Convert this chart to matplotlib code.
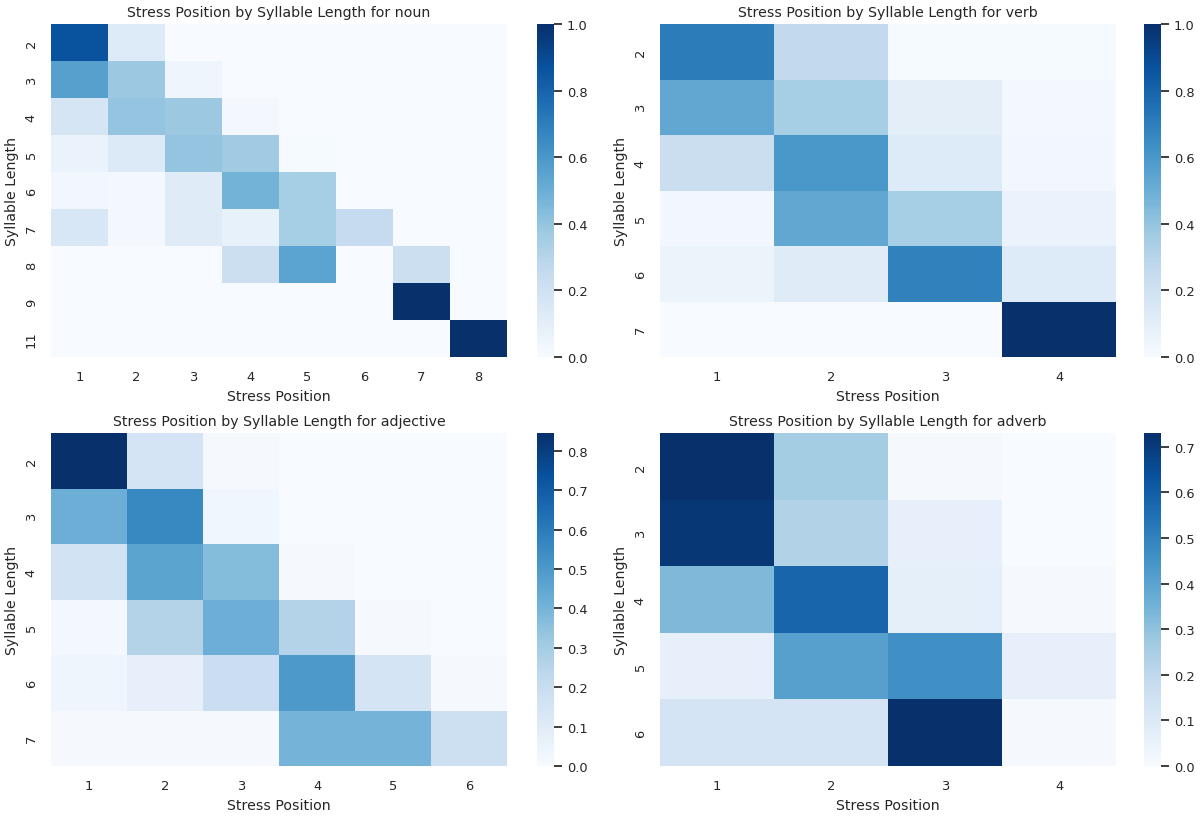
import matplotlib
matplotlib.use("Agg")
import matplotlib.pyplot as plt
import seaborn as sns
import pandas as pd
import numpy as np

sns.set_theme(style="white", font_scale=0.85)

# proportion of words per syllable length (rows) stressed at each position (cols)
noun_lengths = [2, 3, 4, 5, 6, 7, 8, 9, 11]
noun_positions = [1, 2, 3, 4, 5, 6, 7, 8]
noun_values = [
    [0.87, 0.13, 0.00, 0.00, 0.00, 0.00, 0.00, 0.00],
    [0.56, 0.38, 0.05, 0.00, 0.00, 0.00, 0.00, 0.00],
    [0.17, 0.40, 0.38, 0.02, 0.00, 0.00, 0.00, 0.00],
    [0.07, 0.14, 0.40, 0.37, 0.01, 0.00, 0.00, 0.00],
    [0.03, 0.02, 0.12, 0.48, 0.35, 0.00, 0.00, 0.00],
    [0.16, 0.02, 0.12, 0.08, 0.35, 0.25, 0.00, 0.00],
    [0.00, 0.00, 0.00, 0.22, 0.55, 0.00, 0.22, 0.00],
    [0.00, 0.00, 0.00, 0.00, 0.00, 0.00, 1.00, 0.00],
    [0.00, 0.00, 0.00, 0.00, 0.00, 0.00, 0.00, 1.00],
]

verb_lengths = [2, 3, 4, 5, 6, 7]
verb_positions = [1, 2, 3, 4]
verb_values = [
    [0.71, 0.26, 0.01, 0.01],
    [0.53, 0.35, 0.10, 0.02],
    [0.23, 0.60, 0.13, 0.03],
    [0.03, 0.53, 0.35, 0.07],
    [0.06, 0.12, 0.69, 0.13],
    [0.00, 0.00, 0.00, 1.00],
]

adj_lengths = [2, 3, 4, 5, 6, 7]
adj_positions = [1, 2, 3, 4, 5, 6]
adj_values = [
    [0.845, 0.15, 0.01, 0.00, 0.00, 0.00],
    [0.42, 0.56, 0.03, 0.00, 0.00, 0.00],
    [0.16, 0.46, 0.37, 0.01, 0.00, 0.00],
    [0.02, 0.26, 0.42, 0.26, 0.01, 0.00],
    [0.04, 0.07, 0.19, 0.50, 0.15, 0.01],
    [0.01, 0.01, 0.01, 0.40, 0.40, 0.18],
]

adv_lengths = [2, 3, 4, 5, 6]
adv_positions = [1, 2, 3, 4]
adv_values = [
    [0.73, 0.26, 0.01, 0.00],
    [0.71, 0.23, 0.06, 0.00],
    [0.33, 0.58, 0.07, 0.01],
    [0.06, 0.41, 0.46, 0.06],
    [0.13, 0.13, 0.73, 0.01],
]

pos_tables = {
    "noun": pd.DataFrame(noun_values, index=noun_lengths, columns=noun_positions),
    "verb": pd.DataFrame(verb_values, index=verb_lengths, columns=verb_positions),
    "adjective": pd.DataFrame(adj_values, index=adj_lengths, columns=adj_positions),
    "adverb": pd.DataFrame(adv_values, index=adv_lengths, columns=adv_positions),
}

fig = plt.figure(figsize=(12, 8.2), dpi=100)

# panel boxes in figure fractions: (heatmap left, colorbar left, bottom)
lefts = [(0.0425, 0.4475), (0.55, 0.9533)]
bottoms = [0.5634, 0.0646]
hm_w, hm_h, cb_w = 0.38, 0.406, 0.0138

for i, (pos, table) in enumerate(pos_tables.items()):
    row, col = divmod(i, 2)
    ax = fig.add_axes([lefts[col][0], bottoms[row], hm_w, hm_h])
    cax = fig.add_axes([lefts[col][1], bottoms[row], cb_w, hm_h])
    sns.heatmap(table, cmap="Blues", ax=ax, cbar_ax=cax)
    ax.set_title(f"Stress Position by Syllable Length for {pos}")
    ax.set_xlabel("Stress Position")
    ax.set_ylabel("Syllable Length")

plt.savefig("out.png")
